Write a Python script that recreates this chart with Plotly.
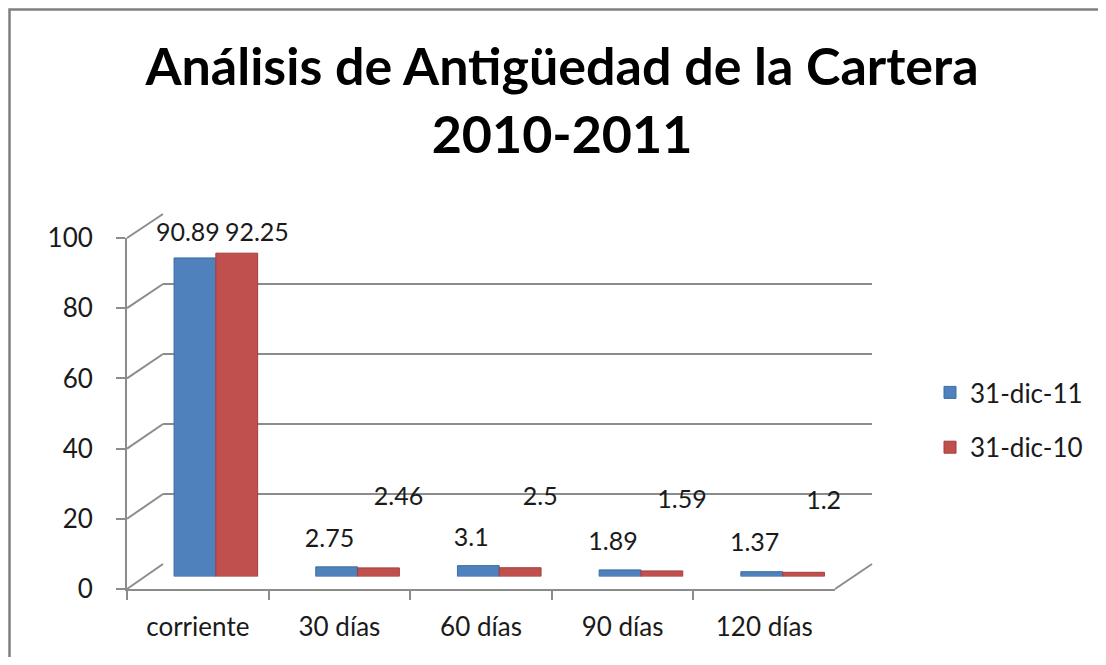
import plotly.graph_objects as go

categories = ["corriente", "30 días", "60 días", "90 días", "120 días"]
serie_2011 = [90.89, 2.75, 3.1, 1.89, 1.37]
serie_2010 = [92.25, 2.46, 2.5, 1.59, 1.2]
series_names = ["31-dic-11", "31-dic-10"]
y_ticks = [0, 20, 40, 60, 80, 100]

# figure fits inside the 1106x665 window (page body has an 8px margin)
OFF = 8
W, H = 1106 - 2 * OFF, 665 - 2 * OFF
FONT = "Lato, 'Open Sans', sans-serif"
GRID = "#8c8c8c"
TXT = "#1a1a1a"
FS = 26
FS_LBL = 25
CAT_RANGE = [-0.5, len(categories) - 0.5]


def px_x(p):
    return (p - OFF) / W


def px_y(p):
    return (H - (p - OFF)) / H


# pixel geometry of the pseudo-3D box (front plane, bar plane, back wall)
front = dict(x0=127, x1=835, y0=589, y1=238)
mid = dict(x0=145, x1=853.5, y0=576.5, y1=226)
back = dict(x0=163, x1=872, y0=564, y1=214)
lbl_a = dict(x0=117, x1=825.5, y0=550, y1=203.4)   # label plane of the 2011 series
lbl_b = dict(x0=186, x1=894.5, y0=506, y1=212)     # label plane of the 2010 series


def dom(p):
    return dict(x=[px_x(p["x0"]), px_x(p["x1"])], y=[px_y(p["y0"]), px_y(p["y1"])])


d_front, d_mid, d_back, d_la, d_lb = dom(front), dom(mid), dom(back), dom(lbl_a), dom(lbl_b)

fig = go.Figure()
fig.add_trace(go.Bar(
    x=categories, y=serie_2011, name=series_names[0], legendgroup="a",
    marker=dict(color="#4F81BD", line=dict(color="#3D6CA3", width=1)),
    xaxis="x3", yaxis="y3", hoverinfo="x+y",
))
fig.add_trace(go.Bar(
    x=categories, y=serie_2010, name=series_names[1], legendgroup="b",
    marker=dict(color="#C0504D", line=dict(color="#A23F3C", width=1)),
    xaxis="x3", yaxis="y3", hoverinfo="x+y",
))
# data labels (Excel 3D placement)
fig.add_trace(go.Scatter(
    x=categories, y=serie_2011, mode="text", text=[f"{v:g}" for v in serie_2011],
    textposition="middle center", textfont=dict(size=FS_LBL, color=TXT, family=FONT),
    xaxis="x5", yaxis="y5", showlegend=False, hoverinfo="skip", cliponaxis=False,
))
fig.add_trace(go.Scatter(
    x=categories, y=serie_2010, mode="text", text=[f"{v:g}" for v in serie_2010],
    textposition="middle center", textfont=dict(size=FS_LBL, color=TXT, family=FONT),
    xaxis="x4", yaxis="y4", showlegend=False, hoverinfo="skip", cliponaxis=False,
))
# invisible traces to activate the front and back axes
fig.add_trace(go.Scatter(x=categories, y=[None] * 5, xaxis="x", yaxis="y",
                         showlegend=False, hoverinfo="skip"))
fig.add_trace(go.Scatter(x=categories, y=[None] * 5, xaxis="x2", yaxis="y2",
                         showlegend=False, hoverinfo="skip"))


def hidden_x(d, anchor):
    return dict(domain=d["x"], anchor=anchor, type="category", range=CAT_RANGE,
                visible=False, automargin=False)


def hidden_y(d, anchor):
    return dict(domain=d["y"], anchor=anchor, range=[0, 100], visible=False, automargin=False)


fig.update_layout(
    width=W, height=H,
    margin=dict(l=0, r=0, t=0, b=0, autoexpand=False),
    paper_bgcolor="white", plot_bgcolor="rgba(0,0,0,0)",
    font=dict(family=FONT, color=TXT, size=FS),
    barmode="group", bargap=0.41, bargroupgap=0.0,
    title=dict(text="<b>Análisis de Antigüedad de la Cartera<br>2010-2011</b>",
               xref="paper", yref="paper",
               x=px_x(562), xanchor="center", y=px_y(85), yanchor="middle",
               font=dict(size=52, family=FONT, color="black"), automargin=False),
    showlegend=True,
    legend=dict(x=px_x(930), y=px_y(420), xanchor="left", yanchor="middle",
                font=dict(size=FS, family=FONT, color=TXT),
                tracegroupgap=18, bgcolor="rgba(0,0,0,0)"),
    xaxis=dict(domain=d_front["x"], anchor="y", type="category", range=CAT_RANGE,
               automargin=False, showline=True, linecolor=GRID, linewidth=2,
               ticks="outside", tickson="boundaries", ticklen=9, tickcolor=GRID, tickwidth=2,
               ticklabelstandoff=14,
               showgrid=False, tickfont=dict(size=FS, family=FONT, color=TXT), zeroline=False),
    yaxis=dict(domain=d_front["y"], anchor="x", range=[0, 100], tickvals=y_ticks, automargin=False,
               showline=True, linecolor=GRID, linewidth=2,
               ticks="outside", ticklen=9, tickcolor=GRID, tickwidth=2, ticklabelstandoff=18,
               showgrid=False, zeroline=False, tickfont=dict(size=FS, family=FONT, color=TXT)),
    xaxis2=hidden_x(d_back, "y2"),
    yaxis2=dict(domain=d_back["y"], anchor="x2", range=[0, 100], tickvals=y_ticks, automargin=False,
                showgrid=True, gridcolor=GRID, gridwidth=2, showticklabels=False,
                zeroline=False, showline=False, ticks=""),
    xaxis3=hidden_x(d_mid, "y3"), yaxis3=hidden_y(d_mid, "x3"),
    xaxis4=hidden_x(d_lb, "y4"), yaxis4=hidden_y(d_lb, "x4"),
    xaxis5=hidden_x(d_la, "y5"), yaxis5=hidden_y(d_la, "x5"),
)

shapes = []
for v in y_ticks:
    yf = front["y0"] + (front["y1"] - front["y0"]) * v / 100
    yb = back["y0"] + (back["y1"] - back["y0"]) * v / 100
    shapes.append(dict(type="line", xref="paper", yref="paper",
                       x0=px_x(front["x0"]), y0=px_y(yf), x1=px_x(back["x0"]), y1=px_y(yb),
                       line=dict(color=GRID, width=2), layer="below"))
shapes.append(dict(type="line", xref="paper", yref="paper",
                   x0=px_x(front["x1"]), y0=px_y(front["y0"]), x1=px_x(back["x1"]), y1=px_y(back["y0"]),
                   line=dict(color=GRID, width=2), layer="below"))
shapes.append(dict(type="rect", xref="paper", yref="paper",
                   x0=px_x(9.5), y0=px_y(9.5), x1=px_x(1130), y1=px_y(690),
                   line=dict(color="#808080", width=2.5), fillcolor="rgba(0,0,0,0)"))
fig.update_layout(shapes=shapes)

fig.write_html("out.html")
